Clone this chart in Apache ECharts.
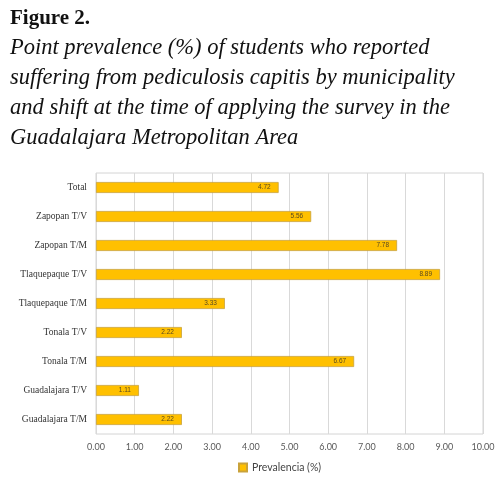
<!DOCTYPE html>
<html>
<head>
<meta charset="utf-8">
<script src="https://cdn.jsdelivr.net/npm/echarts@6/dist/echarts.min.js"></script>
<style>
  html, body { margin: 0; padding: 0; background: #fff; }
  #chart { width: 504px; height: 484px; }
</style>
</head>
<body>
<div id="chart"></div>
<script>
// rows from top to bottom as in the figure
var categories = ['Total', 'Zapopan T/V', 'Zapopan T/M', 'Tlaquepaque T/V', 'Tlaquepaque T/M',
                  'Tonala T/V', 'Tonala T/M', 'Guadalajara T/V', 'Guadalajara T/M'];
var prevalence = [4.72, 5.56, 7.78, 8.89, 3.33, 2.22, 6.67, 1.11, 2.22];
var seriesName = 'Prevalencia (%)';

var myChart = echarts.init(document.getElementById('chart'));
var option = {
    backgroundColor: '#fff',
    title: [{
        text: 'Figure 2.',
        left: 5,
        top: 3,
        textStyle: {
            fontFamily: 'Liberation Serif',
            fontSize: 21,
            fontWeight: 'bold',
            color: '#111'
        }
    }, {
        text: 'Point prevalence (%) of students who reported\nsuffering from pediculosis capitis by municipality\nand shift at the time of applying the survey in the\nGuadalajara Metropolitan Area',
        left: 5,
        top: 28,
        textStyle: {
            fontFamily: 'Liberation Serif',
            fontStyle: 'italic',
            fontSize: 22.5,
            fontWeight: 'normal',
            lineHeight: 30,
            color: '#111'
        }
    }],
    legend: {
        bottom: 6,
        left: 233,
        icon: 'rect',
        itemWidth: 8,
        itemHeight: 8,
        itemGap: 4,
        textStyle: { fontFamily: 'Lato', fontSize: 10.5, color: '#444' },
        data: [seriesName]
    },
    grid: {
        left: 96,
        right: 21,
        top: 173,
        bottom: 50,
        show: true,
        borderColor: '#d4d4d4',
        borderWidth: 1
    },
    xAxis: {
        type: 'value',
        min: 0,
        max: 10,
        interval: 1,
        axisLine: { show: false },
        axisTick: { show: false },
        splitLine: { lineStyle: { color: '#d9d9d9' } },
        axisLabel: {
            fontFamily: 'Lato',
            fontSize: 9,
            color: '#595959',
            margin: 9,
            formatter: function (v) { return v.toFixed(2); }
        }
    },
    yAxis: {
        type: 'category',
        inverse: true,
        data: categories,
        axisLine: { show: false },
        axisTick: { show: false },
        axisLabel: {
            fontFamily: 'Liberation Serif',
            fontSize: 9.5,
            color: '#333',
            margin: 9
        }
    },
    series: [{
        name: seriesName,
        type: 'bar',
        data: prevalence,
        barWidth: 11,
        itemStyle: {
            color: '#ffc000',
            borderColor: '#c9a23a',
            borderWidth: 0.8
        },
        label: {
            show: true,
            position: 'insideRight',
            distance: 8,
            fontFamily: 'Liberation Sans',
            fontSize: 6.5,
            color: '#5a4a20',
            formatter: function (p) { return p.value.toFixed(2); }
        }
    }]
};
myChart.setOption(option);
</script>
</body>
</html>
